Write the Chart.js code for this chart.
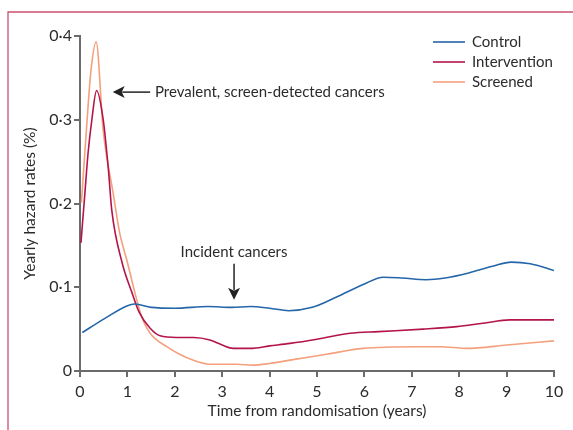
<!DOCTYPE html>
<html>
<head>
<meta charset="utf-8">
<script src="https://cdn.jsdelivr.net/npm/chart.js@4/dist/chart.umd.min.js"></script>
<style>
  html, body { margin: 0; padding: 0; background: #fff; }
  #wrap { width: 573px; height: 430px; position: relative; }
</style>
</head>
<body>
<div id="wrap"><canvas id="myChart" width="573" height="430"></canvas></div>
<script>
// yearly hazard rates (%)
var controlX = [0.05, 0.5, 1.0, 1.15, 1.5, 2.0, 2.7, 3.2, 3.6, 4.0, 4.4, 4.9, 5.4, 6.0, 6.4, 6.8, 7.3, 7.7, 8.2, 8.7, 9.1, 9.5, 10];
var controlY = [0.046, 0.062, 0.078, 0.080, 0.076, 0.075, 0.077, 0.076, 0.077, 0.075, 0.072, 0.076, 0.088, 0.104, 0.112, 0.111, 0.109, 0.111, 0.117, 0.125, 0.130, 0.128, 0.120];

var interventionX = [0.02, 0.1, 0.17, 0.25, 0.35, 0.49, 0.6, 0.67, 0.89, 1.1, 1.25, 1.48, 1.69, 2.04, 2.4, 2.74, 3.0, 3.23, 3.59, 4.0, 4.43, 5.0, 5.7, 6.3, 7.24, 7.95, 8.5, 9.07, 10];
var interventionY = [0.153, 0.21, 0.26, 0.30, 0.335, 0.30, 0.24, 0.192, 0.129, 0.093, 0.07, 0.051, 0.042, 0.040, 0.040, 0.037, 0.031, 0.027, 0.027, 0.030, 0.033, 0.038, 0.045, 0.047, 0.050, 0.053, 0.057, 0.061, 0.061];

var screenedX = [0.03, 0.15, 0.23, 0.34, 0.49, 0.70, 0.84, 0.91, 0.99, 1.16, 1.3, 1.48, 1.83, 2.1, 2.38, 2.74, 3.3, 3.65, 4.0, 4.43, 5.2, 5.97, 7.1, 7.6, 8.16, 9.0, 10];
var screenedY = [0.201, 0.30, 0.358, 0.393, 0.287, 0.212, 0.164, 0.148, 0.132, 0.093, 0.065, 0.045, 0.029, 0.020, 0.013, 0.008, 0.008, 0.007, 0.009, 0.013, 0.020, 0.027, 0.029, 0.029, 0.027, 0.031, 0.036];

var seriesNames = ['Control', 'Intervention', 'Screened'];
var seriesColors = ['#2566a8', '#b3154a', '#f4a07e'];
var yTicks = [0, 0.1, 0.2, 0.3, 0.4];

function toPoints(xs, ys) {
    var pts = [];
    for (var i = 0; i < xs.length; i++) {
        pts.push({x: xs[i], y: ys[i]});
    }
    return pts;
}

function makeSet(name, pts, color) {
    return {
        label: name,
        data: pts,
        borderColor: color,
        backgroundColor: color,
        borderWidth: 1.6,
        pointRadius: 0,
        fill: false,
        cubicInterpolationMode: 'monotone'
    };
}

var FONT = 'Lato, "Open Sans", sans-serif';
var TEXT = '#2b2b2b';
var AXIS = '#6b6b6b';

function arrow(ctx, x1, y1, x2, y2) {
    // line from (x1,y1) to head at (x2,y2)
    var ang = Math.atan2(y2 - y1, x2 - x1);
    var hl = 12, hw = 6;
    ctx.strokeStyle = '#222';
    ctx.fillStyle = '#222';
    ctx.lineWidth = 1.5;
    ctx.beginPath();
    ctx.moveTo(x1, y1);
    ctx.lineTo(x2 - Math.cos(ang) * hl * 0.8, y2 - Math.sin(ang) * hl * 0.8);
    ctx.stroke();
    ctx.beginPath();
    ctx.moveTo(x2, y2);
    ctx.lineTo(x2 - Math.cos(ang) * hl - Math.sin(ang) * hw, y2 - Math.sin(ang) * hl + Math.cos(ang) * hw);
    ctx.lineTo(x2 - Math.cos(ang) * hl * 0.75, y2 - Math.sin(ang) * hl * 0.75);
    ctx.lineTo(x2 - Math.cos(ang) * hl + Math.sin(ang) * hw, y2 - Math.sin(ang) * hl - Math.cos(ang) * hw);
    ctx.closePath();
    ctx.fill();
}

var extras = {
    id: 'extras',
    beforeDraw: function(chart) {
        var ctx = chart.ctx;
        ctx.save();
        // page frame
        ctx.strokeStyle = '#c9506f';
        ctx.lineWidth = 1.3;
        ctx.beginPath();
        ctx.moveTo(573, 12);
        ctx.lineTo(8, 12);
        ctx.lineTo(8, 430);
        ctx.stroke();
        ctx.restore();
    },
    afterDraw: function(chart) {
        var ctx = chart.ctx;
        var xs = chart.scales.x, ys = chart.scales.y;
        ctx.save();
        ctx.font = '15px ' + FONT;
        ctx.textBaseline = 'middle';
        ctx.textAlign = 'left';

        // prevalent cancers annotation
        var ay = ys.getPixelForValue(0.333);
        arrow(ctx, xs.getPixelForValue(1.48), ay, xs.getPixelForValue(0.69), ay);
        ctx.fillStyle = TEXT;
        ctx.fillText('Prevalent, screen-detected cancers', xs.getPixelForValue(1.58), ay);

        // incident cancers annotation
        var ix = xs.getPixelForValue(3.25);
        ctx.textAlign = 'center';
        ctx.fillText('Incident cancers', ix, ys.getPixelForValue(0.142));
        arrow(ctx, ix, ys.getPixelForValue(0.128), ix, ys.getPixelForValue(0.085));

        // legend
        ctx.textAlign = 'left';
        for (var i = 0; i < seriesNames.length; i++) {
            var ly = 42 + i * 20;
            ctx.strokeStyle = seriesColors[i];
            ctx.lineWidth = 1.6;
            ctx.beginPath();
            ctx.moveTo(433, ly);
            ctx.lineTo(465, ly);
            ctx.stroke();
            ctx.fillStyle = TEXT;
            ctx.fillText(seriesNames[i], 472, ly);
        }
        ctx.restore();
    }
};

var ctx = document.getElementById('myChart');
var myChart = new Chart(ctx, {
    type: 'line',
    data: {
        datasets: [
            makeSet(seriesNames[0], toPoints(controlX, controlY), seriesColors[0]),
            makeSet(seriesNames[1], toPoints(interventionX, interventionY), seriesColors[1]),
            makeSet(seriesNames[2], toPoints(screenedX, screenedY), seriesColors[2])
        ]
    },
    options: {
        responsive: false,
        animation: false,
        layout: { padding: { left: 0, top: 36, right: 19, bottom: 0 } },
        plugins: {
            legend: { display: false },
            tooltip: { enabled: false }
        },
        scales: {
            x: {
                type: 'linear',
                min: 0,
                max: 10,
                ticks: {
                    stepSize: 1,
                    color: TEXT,
                    font: { family: FONT, size: 16 },
                    padding: 5,
                    maxRotation: 0
                },
                grid: { drawOnChartArea: false, drawTicks: true, tickLength: 6, color: AXIS, lineWidth: 2 },
                border: { color: AXIS, width: 2 },
                title: {
                    display: true,
                    text: 'Time from randomisation (years)',
                    color: TEXT,
                    font: { family: FONT, size: 15.5 },
                    padding: { top: 0, bottom: 10 }
                },
                afterFit: function(scale) { scale.height = 59; }
            },
            y: {
                type: 'linear',
                min: 0,
                max: 0.4,
                afterBuildTicks: function(scale) {
                    scale.ticks = yTicks.map(function(v) { return {value: v}; });
                },
                ticks: {
                    color: TEXT,
                    font: { family: FONT, size: 16 },
                    padding: 2,
                    callback: function(v) {
                        return v === 0 ? '0' : v.toFixed(1).replace('.', '\u00b7');
                    }
                },
                grid: { drawOnChartArea: false, drawTicks: true, tickLength: 6, color: AXIS, lineWidth: 2 },
                border: { color: AXIS, width: 2 },
                title: {
                    display: true,
                    text: 'Yearly hazard rates (%)',
                    color: TEXT,
                    font: { family: FONT, size: 15.5 },
                    padding: { top: 21, bottom: 0 }
                },
                afterFit: function(scale) { scale.width = 80; }
            }
        }
    },
    plugins: [extras]
});
</script>
</body>
</html>
